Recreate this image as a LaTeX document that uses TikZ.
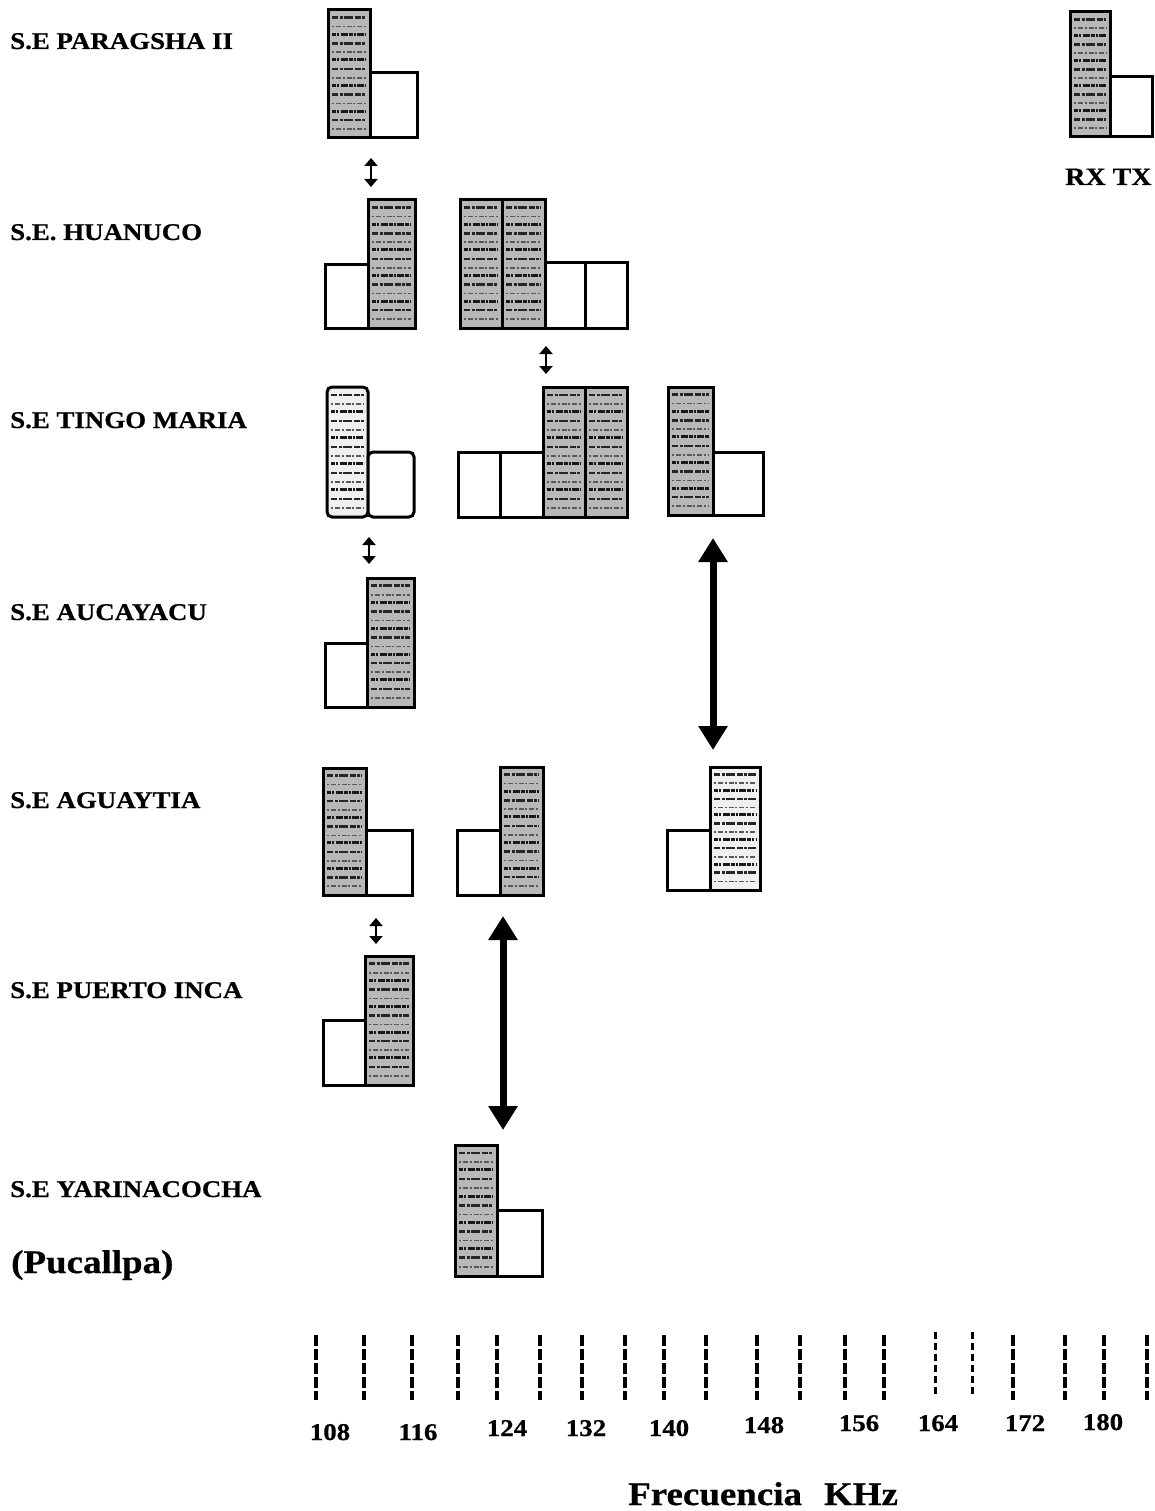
\documentclass[tikz,border=0pt]{standalone}
\usepackage{fontspec}
\setmainfont{Liberation Serif}[FakeStretch=1.12, BoldFeatures={FakeBold=0.6}]
\usetikzlibrary{arrows.meta,calc}

% one row of "printed" texture inside a shaded (RX) channel
\newcommand{\txtrow}[2]{%
  \draw[#2]
    ($(path picture bounding box.north west)!#1!(path picture bounding box.south west)+(4pt,0)$) --
    ($(path picture bounding box.north east)!#1!(path picture bounding box.south east)+(-4pt,0)$);}

% channel box given by its corners: style, name, x1, y1, x2, y2
\newcommand{\chan}[6]{%
  \pgfmathsetmacro{\chx}{(#3+#5)/2}\pgfmathsetmacro{\chy}{(#4+#6)/2}%
  \pgfmathsetmacro{\chw}{#5-#3}\pgfmathsetmacro{\chh}{#6-#4}%
  \node[#1, minimum width=\chw pt, minimum height=\chh pt] (#2) at (\chx,\chy) {};}

\tikzset{
  chbox/.style={draw=black, line width=3pt, inner sep=0pt, outer sep=0pt, fill=white},
  txbox/.style={chbox},
  rowA/.style={black!85, line width=2.6pt, dash pattern=on 6pt off 1.5pt on 3pt off 1pt on 9pt off 2pt},
  rowB/.style={black!65, line width=1.6pt, dash pattern=on 2pt off 2pt on 5pt off 1.5pt},
  rowC/.style={black!90, line width=3pt, dash pattern=on 4pt off 1pt on 2pt off 1.5pt on 7pt off 1pt},
  rxbox/.style={chbox, path picture={
      \fill[black!#1] (path picture bounding box.south west) rectangle (path picture bounding box.north east);
      \foreach \f in {0.06,0.26,0.46,0.66,0.86} {\txtrow{\f}{rowA}}
      \foreach \f in {0.13,0.33,0.53,0.73,0.93} {\txtrow{\f}{rowB}}
      \foreach \f in {0.19,0.39,0.59,0.79} {\txtrow{\f}{rowC}}
  }},
  rxbox/.default=28,
  station/.style={anchor=base west, inner sep=0pt, font=\fontsize{24}{24}\selectfont\bfseries},
  freq/.style={anchor=base, inner sep=0pt, font=\fontsize{24}{24}\selectfont\bfseries},
  smallarrow/.style={line width=2.5pt, {Triangle[length=8pt,width=13pt]}-{Triangle[length=8pt,width=13pt]}},
  bigarrow/.style={line width=7pt, {Triangle[length=24pt,width=28pt]}-{Triangle[length=24pt,width=28pt]}},
  tickline/.style={line width=3.5pt, dash pattern=on 11pt off 3pt},
  tickthin/.style={line width=3pt, dash pattern=on 7pt off 4pt},
}

\begin{document}
\begin{tikzpicture}[x=1pt,y=-1pt]
\useasboundingbox (0,0) rectangle (1155,1511);
\fill[white] (0,0) rectangle (1155,1511);

% station names
\node[station] (lPar) at (10,49)  {S.E PARAGSHA II};
\node[station] (lHua) at (10,240) {S.E. HUANUCO};
\node[station] (lTin) at (10,428) {S.E TINGO MARIA};
\node[station] (lAuc) at (10,620) {S.E AUCAYACU};
\node[station] (lAgu) at (10,808) {S.E AGUAYTIA};
\node[station] (lPue) at (10,998) {S.E PUERTO INCA};
\node[station] (lYar) at (10,1197) {S.E YARINACOCHA};
\node[station, font=\fontsize{33}{33}\selectfont\bfseries] (lPuc) at (11,1273) {(Pucallpa)};

% legend
\chan{rxbox}{legRX}{1070}{12}{1110}{137}
\chan{txbox}{legTX}{1110}{77}{1152}{137}
\node[station, font=\fontsize{25}{25}\selectfont\bfseries] (lRXTX) at (1065,185) {RX TX};

% S.E PARAGSHA II
\chan{rxbox}{parRX}{328}{10}{370}{138}
\chan{txbox}{parTX}{370}{73}{417}{138}

% S.E. HUANUCO
\chan{txbox}{huaTXa}{325}{265}{368}{328}
\chan{rxbox}{huaRXa}{368}{200}{415}{328}
\chan{rxbox}{huaRXb}{460}{200}{502}{328}
\chan{rxbox}{huaRXc}{502}{200}{545}{328}
\chan{txbox}{huaTXb}{545}{263}{585}{328}
\chan{txbox}{huaTXc}{585}{263}{627}{328}

% S.E TINGO MARIA
\chan{rxbox={6},rounded corners=5pt}{tinRXa}{327}{387}{368}{517}
\chan{txbox,rounded corners=5pt}{tinTXa}{368}{452}{414}{517}
\chan{txbox}{tinTXb}{458}{452}{500}{517}
\chan{txbox}{tinTXc}{500}{452}{543}{517}
\chan{rxbox}{tinRXb}{543}{387}{585}{517}
\chan{rxbox}{tinRXc}{585}{387}{627}{517}
\chan{rxbox}{tinRXd}{668}{387}{713}{515}
\chan{txbox}{tinTXd}{713}{452}{763}{515}

% S.E AUCAYACU
\chan{txbox}{aucTX}{325}{643}{367}{707}
\chan{rxbox}{aucRX}{367}{578}{414}{707}

% S.E AGUAYTIA
\chan{rxbox}{aguRXa}{323}{768}{366}{895}
\chan{txbox}{aguTXa}{366}{830}{412}{895}
\chan{txbox}{aguTXb}{457}{830}{500}{895}
\chan{rxbox}{aguRXb}{500}{767}{543}{895}
\chan{txbox}{aguTXc}{667}{830}{710}{890}
\chan{rxbox={6}}{aguRXc}{710}{767}{760}{890}

% S.E PUERTO INCA
\chan{txbox}{pueTX}{323}{1020}{365}{1085}
\chan{rxbox}{pueRX}{365}{956}{413}{1085}

% S.E YARINACOCHA
\chan{rxbox}{yarRX}{455}{1145}{497}{1276}
\chan{txbox}{yarTX}{497}{1210}{542}{1276}

% links between stations
\coordinate (s1a) at (371,158);  \coordinate (s1b) at (371,187);
\coordinate (s2a) at (546,346);  \coordinate (s2b) at (546,374);
\coordinate (s3a) at (369,537);  \coordinate (s3b) at (369,564);
\coordinate (s4a) at (376,918);  \coordinate (s4b) at (376,944);
\draw[smallarrow] (s1a) -- (s1b);
\draw[smallarrow] (s2a) -- (s2b);
\draw[smallarrow] (s3a) -- (s3b);
\draw[smallarrow] (s4a) -- (s4b);

\coordinate (b1a) at (713,538);  \coordinate (b1b) at (713,750);
\coordinate (b2a) at (503,916);  \coordinate (b2b) at (503,1130);
\draw[bigarrow] (b1a) -- (b1b);
\draw[bigarrow] (b2a) -- (b2b);

% frequency scale
\foreach \x in {316,364,412,458,497,540,582,625,664,706,757,800,845,884,1013,1065,1104,1147}
  \draw[tickline] (\x,1335) -- (\x,1400);
\foreach \x in {935,972}
  \draw[tickthin] (\x,1332) -- (\x,1397);

\node[freq] (f108) at (330,1440)  {108};
\node[freq] (f116) at (418,1440)  {116};
\node[freq] (f124) at (507,1436)  {124};
\node[freq] (f132) at (586,1436)  {132};
\node[freq] (f140) at (669,1436)  {140};
\node[freq] (f148) at (764,1433)  {148};
\node[freq] (f156) at (859,1431)  {156};
\node[freq] (f164) at (938,1431)  {164};
\node[freq] (f172) at (1025,1431) {172};
\node[freq] (f180) at (1103,1430) {180};

\node[anchor=base west, inner sep=0pt, font=\fontsize{33}{33}\selectfont\bfseries]
  (axis) at (628,1505) {Frecuencia\hspace{22pt}KHz};
\end{tikzpicture}
\end{document}
